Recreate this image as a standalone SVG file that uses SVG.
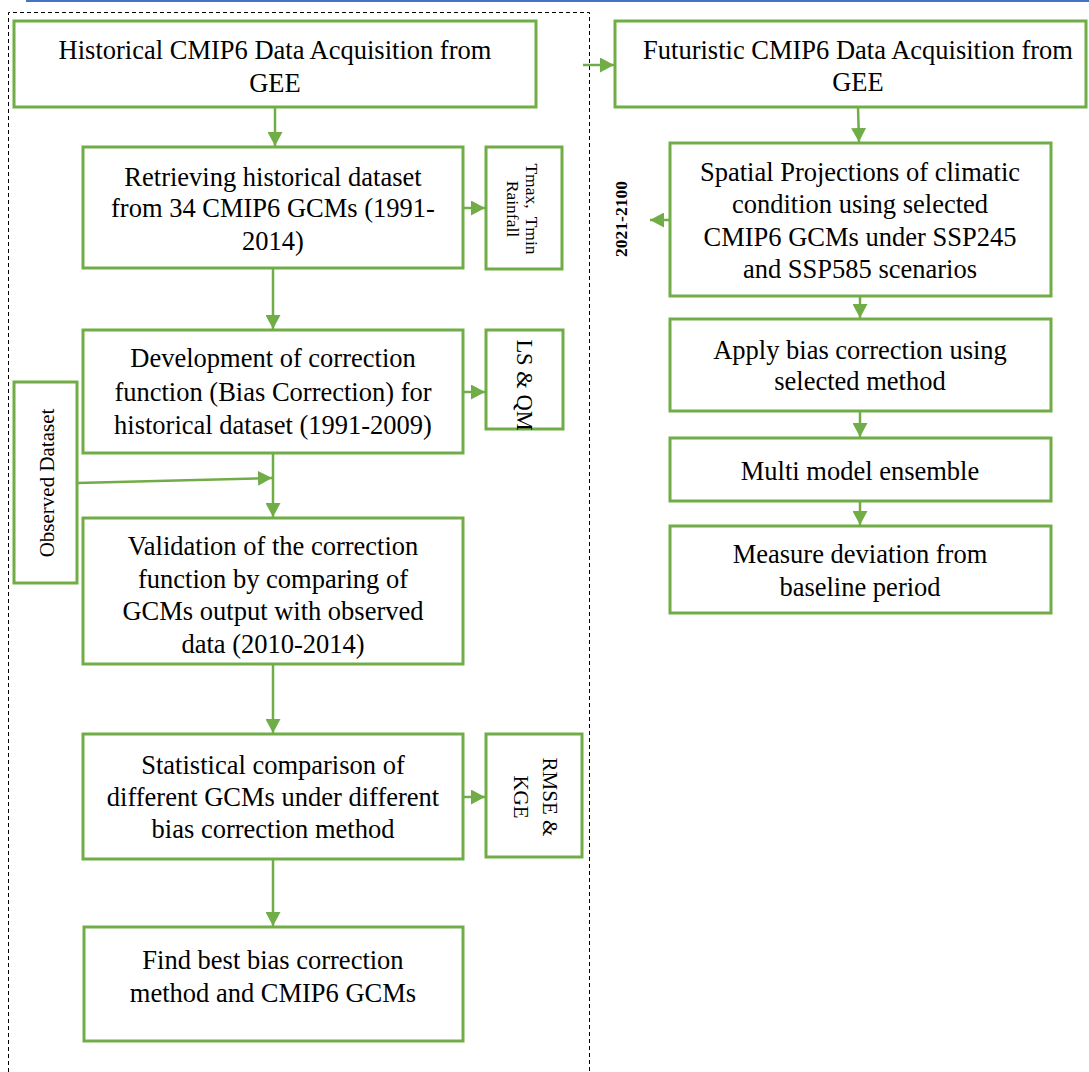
<svg xmlns="http://www.w3.org/2000/svg" width="1089" height="1072" viewBox="0 0 1089 1072">
<style>
  .box{fill:#fff;stroke:#70AD47;stroke-width:3}
  .t{font-family:"Liberation Serif","Times New Roman",serif;font-size:26.5px;fill:#000;text-anchor:middle}
  .s{font-family:"Liberation Serif","Times New Roman",serif;fill:#000;text-anchor:middle;dominant-baseline:central}
  .c{fill:none;stroke:#70AD47;stroke-width:2.5}
</style>
<defs>
  <marker id="ah" markerUnits="userSpaceOnUse" markerWidth="15" markerHeight="15" refX="14" refY="7.5" orient="auto">
    <path d="M0,0 L14,7.5 L0,15 z" fill="#70AD47"/>
  </marker>
</defs>
<rect width="1089" height="1072" fill="#fff"/>
<line x1="26" y1="1" x2="1089" y2="1" stroke="#4472C4" stroke-width="2"/>
<path d="M8.5,1072 V12.5 H589.5 V1072" fill="none" stroke="#000" stroke-width="1" stroke-dasharray="4,3"/>

<g id="connectors">
  <line class="c" x1="275" y1="108" x2="275" y2="146" marker-end="url(#ah)"/>
  <line class="c" x1="583" y1="65" x2="614" y2="65" marker-end="url(#ah)"/>
  <line class="c" x1="463" y1="208" x2="485" y2="208" marker-end="url(#ah)"/>
  <line class="c" x1="273" y1="268" x2="273" y2="329" marker-end="url(#ah)"/>
  <line class="c" x1="463" y1="392" x2="485" y2="392" marker-end="url(#ah)"/>
  <line class="c" x1="273" y1="453" x2="273" y2="517" marker-end="url(#ah)"/>
  <line class="c" x1="77" y1="483" x2="272" y2="478" marker-end="url(#ah)"/>
  <line class="c" x1="273" y1="664" x2="273" y2="733" marker-end="url(#ah)"/>
  <line class="c" x1="463" y1="797" x2="485" y2="797" marker-end="url(#ah)"/>
  <line class="c" x1="273" y1="859" x2="273" y2="926" marker-end="url(#ah)"/>
  <line class="c" x1="858" y1="107" x2="859" y2="142" marker-end="url(#ah)"/>
  <line class="c" x1="670" y1="220" x2="650" y2="220" marker-end="url(#ah)"/>
  <line class="c" x1="860" y1="296" x2="860" y2="318" marker-end="url(#ah)"/>
  <line class="c" x1="860" y1="411" x2="860" y2="437" marker-end="url(#ah)"/>
  <line class="c" x1="860" y1="501" x2="860" y2="525" marker-end="url(#ah)"/>
</g>

<g id="n-hist">
  <rect class="box" x="14" y="21" width="522" height="86"/>
  <text class="t" x="275" y="59">Historical CMIP6 Data Acquisition from</text>
  <text class="t" x="275" y="92">GEE</text>
</g>
<g id="n-retrieve">
  <rect class="box" x="83" y="147" width="380" height="121"/>
  <text class="t" x="273" y="186">Retrieving historical dataset</text>
  <text class="t" x="273" y="217">from 34 CMIP6 GCMs (1991-</text>
  <text class="t" x="273" y="250">2014)</text>
</g>
<g id="n-vars">
  <rect class="box" x="486" y="147" width="76" height="122"/>
  <g transform="translate(523,209) rotate(90)">
    <text class="s" font-size="17.5" x="0" y="-9" word-spacing="4">Tmax, Tmin</text>
    <text class="s" font-size="17.5" x="0" y="10">Rainfall</text>
  </g>
</g>
<g id="n-develop">
  <rect class="box" x="83" y="330" width="380" height="123"/>
  <text class="t" x="273" y="367">Development of correction</text>
  <text class="t" x="273" y="401">function (Bias Correction) for</text>
  <text class="t" x="273" y="434">historical dataset (1991-2009)</text>
</g>
<g id="n-lsqm">
  <rect class="box" x="486" y="330" width="77" height="99"/>
  <g transform="translate(524,385) rotate(90)">
    <text class="s" font-size="22.5" x="0" y="0">LS &amp; QM</text>
  </g>
</g>
<g id="n-observed">
  <rect class="box" x="14" y="382" width="63" height="201"/>
  <g transform="translate(47,483) rotate(-90)">
    <text class="s" font-size="21" x="0" y="0">Observed Dataset</text>
  </g>
</g>
<g id="n-validation">
  <rect class="box" x="83" y="518" width="380" height="146"/>
  <text class="t" x="273" y="555">Validation of the correction</text>
  <text class="t" x="273" y="588">function by comparing of</text>
  <text class="t" x="273" y="620">GCMs output with observed</text>
  <text class="t" x="273" y="653">data (2010-2014)</text>
</g>
<g id="n-stat">
  <rect class="box" x="83" y="734" width="380" height="125"/>
  <text class="t" x="273" y="774">Statistical comparison of</text>
  <text class="t" x="273" y="806">different GCMs under different</text>
  <text class="t" x="273" y="838">bias correction method</text>
</g>
<g id="n-metrics">
  <rect class="box" x="486" y="734" width="96" height="123"/>
  <g transform="translate(535,797) rotate(90)">
    <text class="s" font-size="21" x="0" y="-15">RMSE &amp;</text>
    <text class="s" font-size="21" x="0" y="14">KGE</text>
  </g>
</g>
<g id="n-find">
  <rect class="box" x="84" y="927" width="379" height="114"/>
  <text class="t" x="273" y="969">Find best bias correction</text>
  <text class="t" x="273" y="1002">method and CMIP6 GCMs</text>
</g>

<g id="n-future">
  <rect class="box" x="615" y="21" width="471" height="86"/>
  <text class="t" x="858" y="59">Futuristic CMIP6 Data Acquisition from</text>
  <text class="t" x="858" y="91">GEE</text>
</g>
<g id="n-period">
  <g transform="translate(621,219) rotate(-90)">
    <text class="s" font-size="17.5" font-weight="bold" x="0" y="0">2021-2100</text>
  </g>
</g>
<g id="n-spatial">
  <rect class="box" x="670" y="143" width="381" height="153"/>
  <text class="t" x="860" y="181">Spatial Projections of climatic</text>
  <text class="t" x="860" y="213">condition using selected</text>
  <text class="t" x="860" y="246">CMIP6 GCMs under SSP245</text>
  <text class="t" x="860" y="278">and SSP585 scenarios</text>
</g>
<g id="n-apply">
  <rect class="box" x="670" y="319" width="381" height="92"/>
  <text class="t" x="860" y="359">Apply bias correction using</text>
  <text class="t" x="860" y="390">selected method</text>
</g>
<g id="n-ensemble">
  <rect class="box" x="670" y="438" width="381" height="63"/>
  <text class="t" x="860" y="480">Multi model ensemble</text>
</g>
<g id="n-measure">
  <rect class="box" x="670" y="526" width="381" height="87"/>
  <text class="t" x="860" y="563">Measure deviation from</text>
  <text class="t" x="860" y="596">baseline period</text>
</g>
</svg>
